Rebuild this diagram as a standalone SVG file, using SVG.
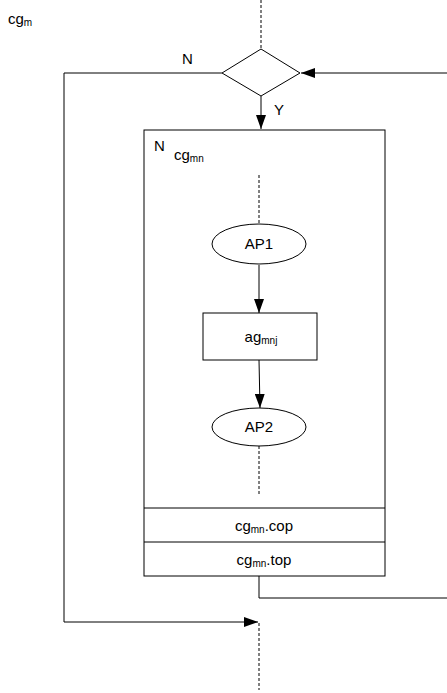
<svg xmlns="http://www.w3.org/2000/svg" width="447" height="693" viewBox="0 0 447 693">
<style>
text{font-family:"Liberation Sans",Arial,sans-serif;font-size:15px;fill:#000}
.sub{font-size:10px}
.shape{fill:#fff;stroke:#000;stroke-width:1}
.line{fill:none;stroke:#000;stroke-width:1}
.dash{fill:none;stroke:#000;stroke-width:1;stroke-dasharray:3,2}
</style>
<defs>
<marker id="arrL" viewBox="0 0 14 10" refX="14" refY="5" markerWidth="14" markerHeight="10" markerUnits="userSpaceOnUse" orient="auto">
<path d="M0,0 L14,5 L0,10 z" fill="#000"/>
</marker>
</defs>
<text x="8" y="24">cg<tspan class="sub" dy="2">m</tspan></text>
<g id="cgmn">
<rect class="shape" x="144" y="130" width="241" height="446"/>
<line class="line" x1="144" y1="508" x2="385" y2="508"/>
<line class="line" x1="144" y1="542" x2="385" y2="542"/>
<text x="154" y="151">N</text>
<text x="174" y="160">cg<tspan class="sub" dy="2">mn</tspan></text>
<text x="264" y="531" text-anchor="middle">cg<tspan class="sub" dy="2">mn</tspan><tspan dy="-2">.cop</tspan></text>
<text x="264" y="565" text-anchor="middle">cg<tspan class="sub" dy="2">mn</tspan><tspan dy="-2">.top</tspan></text>
</g>
<g id="connectors">
<path class="dash" d="M261,0 V49"/>
<path class="line" d="M222,73 H64 V622 H258" marker-end="url(#arrL)"/>
<path class="line" d="M447,73 H301" marker-end="url(#arrL)"/>
<path class="line" d="M261,96 V129" marker-end="url(#arrL)"/>
<path class="dash" d="M259,175 V226"/>
<path class="line" d="M259,265 V313" marker-end="url(#arrL)"/>
<path class="line" d="M259,360 L260,408" marker-end="url(#arrL)"/>
<path class="dash" d="M259,446 V494"/>
<path class="line" d="M259,576 V598 H447"/>
<path class="dash" d="M259,623 V690"/>
<text x="182" y="64">N</text>
<text x="274" y="115">Y</text>
</g>
<g id="decision">
<polygon class="shape" points="261,49 300,73 261,96 222,73"/>
</g>
<g id="ap1">
<ellipse class="shape" cx="259" cy="244" rx="47" ry="20"/>
<text x="259" y="249" text-anchor="middle">AP1</text>
</g>
<g id="agmnj">
<rect class="shape" x="203" y="313" width="114" height="47"/>
<text x="261" y="342" text-anchor="middle">ag<tspan class="sub" dy="2">mnj</tspan></text>
</g>
<g id="ap2">
<ellipse class="shape" cx="259" cy="427" rx="47" ry="19"/>
<text x="259" y="432" text-anchor="middle">AP2</text>
</g>
</svg>
